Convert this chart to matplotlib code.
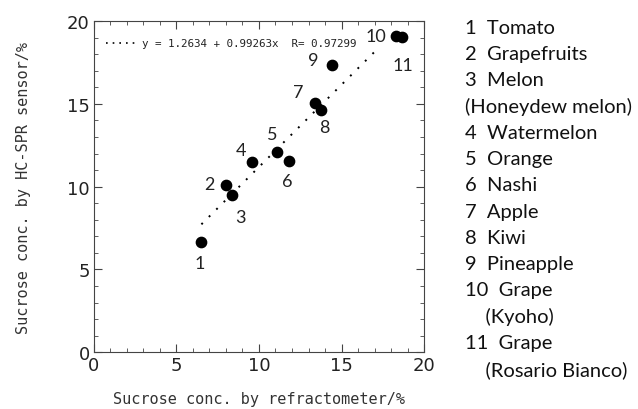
import numpy as np
import matplotlib
matplotlib.use("Agg")
import matplotlib.pyplot as plt

# sucrose concentration: refractometer (x) vs HC-SPR sensor (y), in %
refract = [6.51, 8.03, 8.39, 9.57, 11.08, 11.79, 13.41, 13.73, 14.40, 18.28, 18.65]
sensor = [6.64, 10.10, 9.50, 11.47, 12.11, 11.55, 15.05, 14.61, 17.36, 19.09, 19.01]
point_ids = ["1", "2", "3", "4", "5", "6", "7", "8", "9", "10", "11"]

# linear fit given in the figure (drawn over the visible range)
fit_a = 1.2634
fit_b = 0.99263
fit_r = 0.97299
fit_x = [6.51, 17.3]

fruit_list = ["1  Tomato", "2  Grapefruits", "3  Melon", "(Honeydew melon)",
              "4  Watermelon", "5  Orange", "6  Nashi", "7  Apple", "8  Kiwi",
              "9  Pineapple", "10  Grape", "    (Kyoho)", "11  Grape",
              "    (Rosario Bianco)"]

# label offsets (pixels) from each point
label_off = [(-2, -21), (-17, 1), (8, -22), (-11, 12), (-5, 18), (-1, -20),
             (-17, 11), (4, -17), (-18, 5), (-20, 0), (1, -28)]

mono = ["DejaVu Sans Mono"]
narrow = ["Liberation Sans Narrow", "DejaVu Sans"]

fig = plt.figure(figsize=(6.38, 4.10), dpi=100)
ax = fig.add_axes([0.1473, 0.1383, 0.5173, 0.808])

ax.scatter(refract, sensor, s=55, color="black", zorder=3)

xs = np.array(fit_x)
ax.plot(xs, fit_a + fit_b * xs, linestyle=(0, (1, 4.4)), color="black", lw=1.4)

for i in range(len(point_ids)):
    ax.annotate(point_ids[i], (refract[i], sensor[i]), xytext=label_off[i],
                textcoords="offset pixels", ha="center", va="center",
                fontsize=13, family="Lato", color="#222222")

# fit legend inside the axes
ax.plot([0.035, 0.135], [0.935, 0.935], transform=ax.transAxes,
        linestyle=(0, (1, 3.0)), color="black", lw=1.2)
ax.text(0.145, 0.935, "y = 1.2634 + 0.99263x  R= 0.97299",
        transform=ax.transAxes, va="center", ha="left",
        fontsize=7.8, family=mono, color="#222222")

ax.set_xlim(0, 20)
ax.set_ylim(0, 20)
ax.set_xticks([0, 5, 10, 15, 20])
ax.set_yticks([0, 5, 10, 15, 20])
ax.set_xticks(np.arange(0, 21, 1), minor=True)
ax.set_yticks(np.arange(0, 21, 1), minor=True)
ax.tick_params(which="both", direction="in", top=True, right=True, color="#444444")
ax.tick_params(which="major", length=6, labelsize=13, pad=3, labelcolor="#222222")
ax.tick_params(which="minor", length=3)
for lab in ax.get_xticklabels() + ax.get_yticklabels():
    lab.set_family(narrow)
for sp in ax.spines.values():
    sp.set_color("#444444")

ax.set_xlabel("Sucrose conc. by refractometer/%", fontsize=11, family=mono,
              color="#333333", labelpad=12)
ax.set_ylabel("Sucrose conc. by HC-SPR sensor/%", fontsize=11, family=mono,
              color="#333333", labelpad=26)

# fruit key on the right
for i in range(len(fruit_list)):
    fig.text(465 / 638, 1 - (28 + 26.3 * i) / 410, fruit_list[i], ha="left",
             va="center", fontsize=14.5, family="Lato", color="#111111")

fig.savefig("out.png", dpi=100)
